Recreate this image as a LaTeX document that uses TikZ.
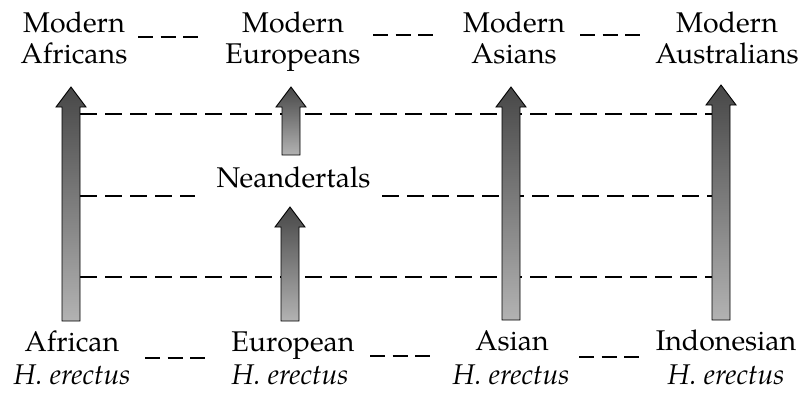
\documentclass[tikz,border=0pt]{standalone}
\usepackage{fontspec}
\setmainfont{TeX Gyre Pagella}
\newcommand\hupArrow[4]{% name, x centre, y bottom, y tip
  \shade[arrowbody] ({#2-9},#3) -- ({#2-9},{#4+20}) -- ({#2-15},{#4+20}) -- (#2,#4)
    -- ({#2+15},{#4+20}) -- ({#2+9},{#4+20}) -- ({#2+9},#3) -- cycle;
  \coordinate (#1-l) at ({#2-9},#3);
  \coordinate (#1-r) at ({#2+9},#3);}
\begin{document}
\begin{tikzpicture}[x=1pt,y=-1pt,
  lbl/.style={font=\fontsize{28.5}{31}\selectfont, inner sep=0pt, anchor=base},
  itl/.style={lbl, font=\fontsize{28.5}{31}\selectfont\itshape},
  tiedash/.style={line width=1.2pt, dash pattern=on 15pt off 7.5pt},
  linkdash/.style={line width=1.3pt, dash pattern=on 17pt off 8pt},
  arrowbody/.style={top color=black!72, bottom color=black!30, draw=black, line width=0.9pt}]
\useasboundingbox (0,0) rectangle (804,392);

% horizontal dashed links (behind arrows)
\coordinate (l1a) at (80,114);  \coordinate (l1b) at (712,114);
\coordinate (l2a) at (80,196);  \coordinate (l2b) at (195,196);
\coordinate (l2c) at (382,196); \coordinate (l2d) at (712,196);
\coordinate (l3a) at (80,277);  \coordinate (l3b) at (712,277);
\draw[linkdash] (l1a) -- (l1b);
\draw[linkdash] (l2a) -- (l2b);
\draw[linkdash] (l2c) -- (l2d);
\draw[linkdash] (l3a) -- (l3b);

% arrows
\hupArrow{afr}{71}{321}{87}
\hupArrow{eurU}{291}{155}{87}
\hupArrow{eurL}{290}{321}{207}
\hupArrow{asi}{511}{320}{87}
\hupArrow{aus}{721}{320}{85}

% top labels
\node[lbl] (mafr1) at (74,32) {Modern};
\node[lbl] (mafr2) at (74,63) {Africans};
\node[lbl] (meur1) at (293,32) {Modern};
\node[lbl] (meur2) at (293,63) {Europeans};
\node[lbl] (masi1) at (514,32) {Modern};
\node[lbl] (masi2) at (514,63) {Asians};
\node[lbl] (maus1) at (727,32) {Modern};
\node[lbl] (maus2) at (727,63) {Australians};

% Neandertals
\node[lbl] (nea) at (293.5,187) {Neandertals};

% bottom labels
\node[lbl] (hafr1) at (72,351) {African};
\node[itl] (hafr2) at (72,384) {H. erectus};
\node[lbl] (heur1) at (293,351) {European};
\node[itl] (heur2) at (290,384) {H. erectus};
\node[lbl] (hasi1) at (512,350) {Asian};
\node[itl] (hasi2) at (511,384) {H. erectus};
\node[lbl] (hind1) at (726,350) {Indonesian};
\node[itl] (hind2) at (726,384) {H. erectus};

% short ties between labels
\coordinate (t1a) at (138,37); \coordinate (t1b) at (198,37);
\coordinate (t2a) at (373,35); \coordinate (t2b) at (433,35);
\coordinate (t3a) at (580,35); \coordinate (t3b) at (640,35);
\coordinate (b1a) at (145,358); \coordinate (b1b) at (205,358);
\coordinate (b2a) at (370,356); \coordinate (b2b) at (430,356);
\coordinate (b3a) at (579,357); \coordinate (b3b) at (639,357);
\draw[tiedash] (t1a) -- (t1b);
\draw[tiedash] (t2a) -- (t2b);
\draw[tiedash] (t3a) -- (t3b);
\draw[tiedash] (b1a) -- (b1b);
\draw[tiedash] (b2a) -- (b2b);
\draw[tiedash] (b3a) -- (b3b);
\end{tikzpicture}
\end{document}
